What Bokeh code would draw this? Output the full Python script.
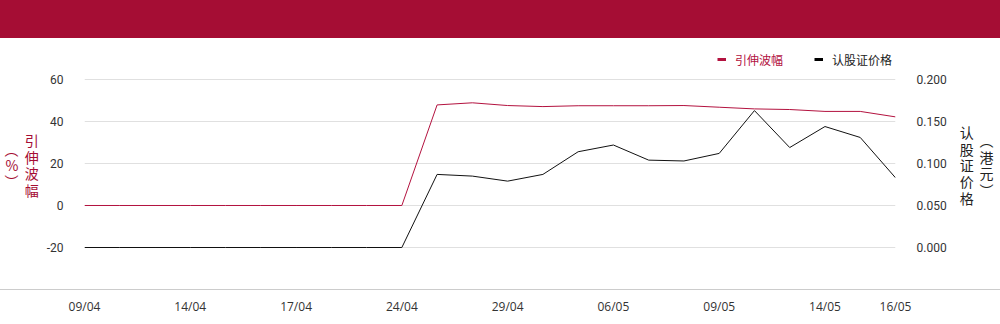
from bokeh.plotting import figure
from bokeh.layouts import column
from bokeh.models import (Range1d, LinearAxis, FixedTicker, Legend, LegendItem,
                          NumeralTickFormatter, Div)
from bokeh.embed import file_html
from bokeh.resources import INLINE

# ---- data ----
dates = ["09/04", "10/04", "11/04", "14/04", "15/04", "16/04", "17/04", "22/04",
         "23/04", "24/04", "25/04", "28/04", "29/04", "30/04", "02/05", "06/05",
         "07/05", "08/05", "09/05", "12/05", "13/05", "14/05", "15/05", "16/05"]
implied_vol = [0, 0, 0, 0, 0, 0, 0, 0, 0, 0,
               47.9, 48.9, 47.6, 47.1, 47.5, 47.5, 47.5, 47.6, 46.8, 46.0,
               45.7, 44.8, 44.8, 42.2]
warrant_price = [0.000, 0.000, 0.000, 0.000, 0.000, 0.000, 0.000, 0.000, 0.000, 0.000,
                 0.087, 0.085, 0.079, 0.087, 0.114, 0.122, 0.104, 0.103, 0.112, 0.163,
                 0.119, 0.144, 0.131, 0.083]
tick_idx = [0, 3, 6, 9, 12, 15, 18, 21, 23]
left_ticks = [-20, 0, 20, 40, 60]
right_ticks = [0.0, 0.05, 0.10, 0.15, 0.20]
label_vol = "引伸波幅"
label_price = "认股证价格"
unit_vol = "︵%︶"
unit_price = "︵港元︶"

RED = "#A50D34"
LINE_RED = "#B3123F"
TICK_FONT = "Roboto"
CJK = "Noto Sans CJK SC"
NAN = float("nan")

W = 1000
x = list(range(len(dates)))
xr = Range1d(0, len(dates) - 1)

# ---- banner ----
banner = Div(text="", width=W, height=38, margin=0,
             styles={"background-color": RED, "padding": "0", "margin": "0"})

# ---- main chart ----
p = figure(width=W, height=251, output_backend="svg", toolbar_location=None,
           x_range=xr, y_range=Range1d(-40, 78.5714), x_axis_location=None,
           min_border_left=84, min_border_right=105, min_border_top=2, min_border_bottom=0)
p.outline_line_color = None
p.extra_y_ranges = {"price": Range1d(-0.05, 0.246429)}

p.line(x, implied_vol, line_color=LINE_RED, line_width=1)
p.line(x, warrant_price, line_color="#111111", line_width=1, y_range_name="price")


def style_y(ax, standoff):
    ax.axis_line_color = None
    ax.major_tick_line_color = None
    ax.minor_tick_line_color = None
    ax.major_tick_out = 0
    ax.major_tick_in = 0
    ax.minor_tick_out = 0
    ax.minor_tick_in = 0
    ax.major_label_standoff = standoff
    ax.major_label_text_font = TICK_FONT
    ax.major_label_text_font_size = "12px"
    ax.major_label_text_color = "#333333"
    ax.axis_label_orientation = "horizontal"
    ax.axis_label_text_font = CJK
    ax.axis_label_text_font_size = "14px"
    ax.axis_label_text_font_style = "normal"
    ax.axis_label_text_line_height = 0.82


ya = p.yaxis[0]
ya.ticker = FixedTicker(ticks=left_ticks)
ya.major_label_overrides = {t: str(t) for t in left_ticks}
style_y(ya, 21)
ya.axis_label = "\n".join(label_vol)
ya.axis_label_text_color = RED
ya.axis_label_standoff = 5

ya2 = LinearAxis(ticker=FixedTicker(ticks=[]))
style_y(ya2, 0)
ya2.axis_label = "\n".join(unit_vol)
ya2.axis_label_text_color = RED
ya2.axis_label_standoff = 3
p.add_layout(ya2, "left")

ra = LinearAxis(y_range_name="price", ticker=FixedTicker(ticks=right_ticks),
                formatter=NumeralTickFormatter(format="0.000"))
style_y(ra, 21)
ra.axis_label = "\n".join(label_price)
ra.axis_label_text_color = "#222222"
ra.axis_label_standoff = 10
p.add_layout(ra, "right")

ra2 = LinearAxis(y_range_name="price", ticker=FixedTicker(ticks=[]))
style_y(ra2, 0)
ra2.axis_label = "\n".join(unit_price)
ra2.axis_label_text_color = "#222222"
ra2.axis_label_standoff = 3
p.add_layout(ra2, "right")

p.xgrid.visible = False
p.ygrid.ticker = FixedTicker(ticks=left_ticks)
p.ygrid.grid_line_color = "#e0e0e0"

# legends (swatch renderers with no visible points)
sw1 = p.line([NAN], [NAN], line_color=LINE_RED, line_width=3)
sw2 = p.line([NAN], [NAN], line_color="#000000", line_width=3)
for rend, lab, col, vx in [(sw1, label_vol, LINE_RED, 633), (sw2, label_price, "#222222", 730)]:
    lg = Legend(items=[LegendItem(label=lab, renderers=[rend])], location=(vx, 220),
                orientation="horizontal", padding=0, margin=0, spacing=0,
                border_line_color=None, background_fill_alpha=0,
                glyph_width=9, glyph_height=20, label_standoff=9, label_height=20,
                label_text_font=CJK, label_text_font_size="12px", label_text_color=col)
    p.add_layout(lg)

# ---- full-width rule ----
rule = Div(text="", width=W, height=1, margin=0,
           styles={"background-color": "#cccccc", "padding": "0", "margin": "0"})

# ---- x axis strip ----
xf = figure(width=W, height=34, output_backend="svg", toolbar_location=None,
            x_range=xr, y_range=Range1d(0, 1), y_axis_location=None,
            min_border_left=84, min_border_right=105, min_border_top=0, min_border_bottom=33)
xf.outline_line_color = None
xf.grid.visible = False
xa = xf.xaxis[0]
xa.ticker = FixedTicker(ticks=tick_idx)
xa.major_label_overrides = {i: dates[i] for i in tick_idx}
xa.axis_line_color = None
xa.major_tick_line_color = None
xa.minor_tick_line_color = None
xa.major_tick_out = 0
xa.major_tick_in = 0
xa.minor_tick_out = 0
xa.minor_tick_in = 0
xa.major_label_standoff = 6
xa.major_label_text_font = "Open Sans"
xa.major_label_text_font_size = "12px"
xa.major_label_text_color = "#333333"

layout = column(banner, p, rule, xf, spacing=0)
open("out.html", "w").write(file_html(layout, INLINE))
